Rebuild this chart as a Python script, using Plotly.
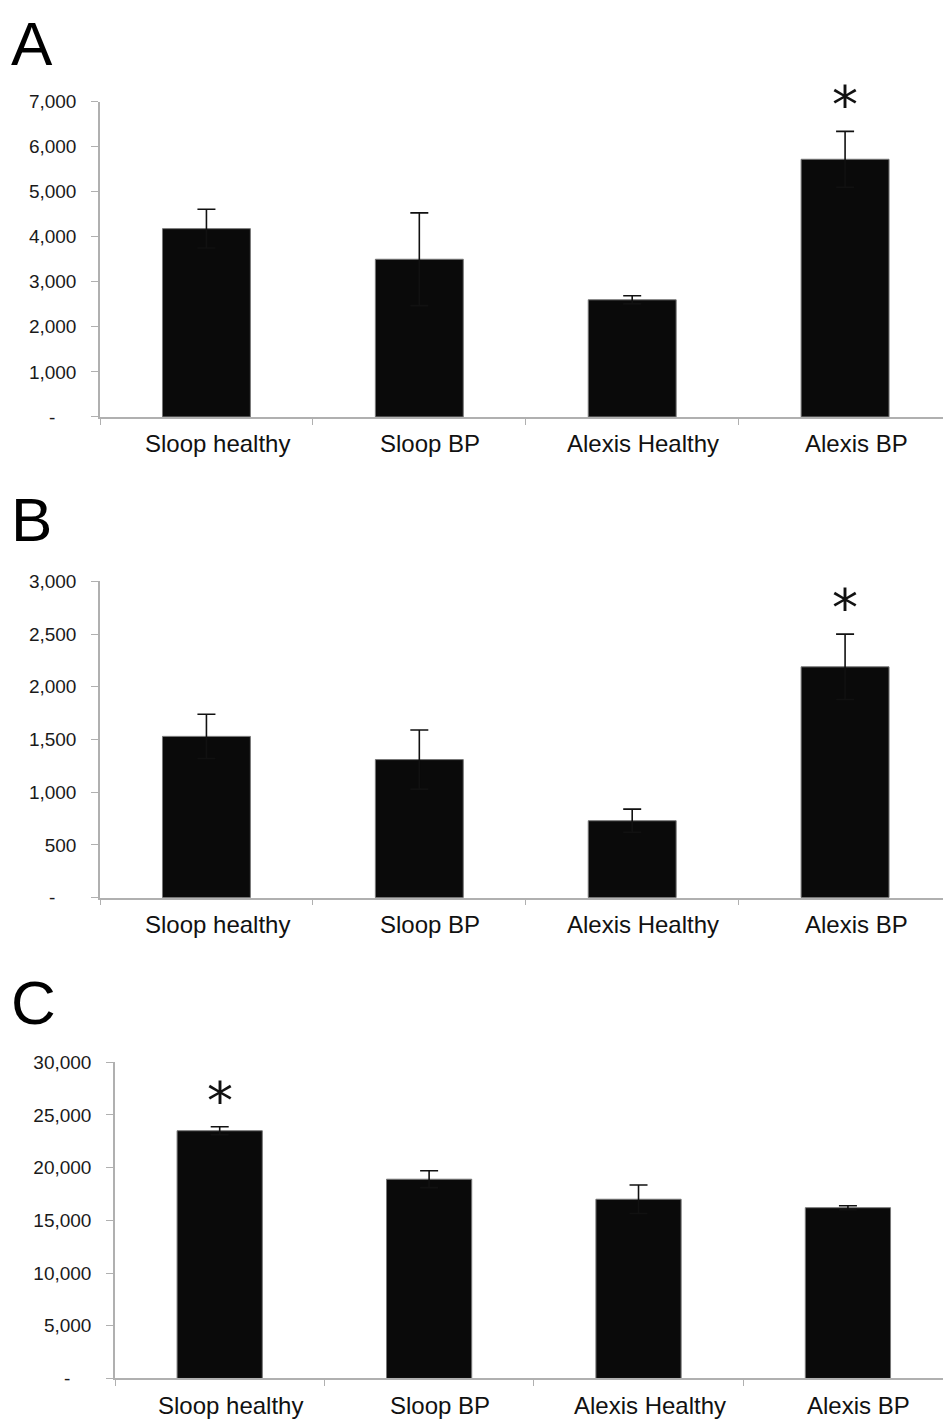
import plotly.graph_objects as go

# Groups shown on every panel
groups = ["Sloop healthy", "Sloop BP", "Alexis Healthy", "Alexis BP"]

# Panel A
a_values = [4180, 3500, 2600, 5720]
a_errors = [430, 1030, 90, 620]
a_ticks = [0, 1000, 2000, 3000, 4000, 5000, 6000, 7000]

# Panel B
b_values = [1530, 1310, 730, 2190]
b_errors = [210, 280, 110, 310]
b_ticks = [0, 500, 1000, 1500, 2000, 2500, 3000]

# Panel C
c_values = [23500, 18900, 17000, 16200]
c_errors = [380, 800, 1350, 180]
c_ticks = [0, 5000, 10000, 15000, 20000, 25000, 30000]

# Groups flagged as significant
a_sig = ["Alexis BP"]
b_sig = ["Alexis BP"]
c_sig = ["Sloop healthy"]

W, H = 944, 1420
NB = "\u00a0"

def fmt(v):
    # accounting-style zero
    return "-" + NB * 4 if v == 0 else f"{v:,}"

panels = [
    # letter, values, errors, ticks, sig, x-left px, y-top px, y-bottom px,
    # letter y px, visible category span, bar width
    ("A", a_values, a_errors, a_ticks, a_sig, 100, 93, 413, None, 3.46, 0.413),
    ("B", b_values, b_errors, b_ticks, b_sig, 100, 580, 901, 517, 3.46, 0.413),
    ("C", c_values, c_errors, c_ticks, c_sig, 115, 1068, 1389, 1007, 3.454, 0.407),
]

fig = go.Figure()
annotations = []
layout = {}

for i, (letter, vals, errs, ticks, sig, xl, yt, yb, ly, xmax, bw) in enumerate(panels):
    n = "" if i == 0 else str(i + 1)
    xa, ya = "x" + n, "y" + n
    fig.add_trace(go.Bar(
        x=groups, y=vals, xaxis=xa, yaxis=ya, width=bw,
        marker=dict(color="#0a0a0a", line=dict(color="#777777", width=1)),
        error_y=dict(type="data", array=errs, visible=True,
                     color="#111111", thickness=1.6, width=9),
        showlegend=False,
    ))
    top = ticks[-1]
    layout["xaxis" + n] = dict(
        domain=[xl / W, 943 / W], anchor=ya, type="category",
        range=[-0.5, xmax],
        showline=True, linecolor="#b0b0b0", linewidth=1.5,
        ticks="outside", tickson="boundaries", ticklen=6, tickcolor="#b0b0b0",
        showticklabels=False, showgrid=False, zeroline=False, fixedrange=True,
    )
    layout["yaxis" + n] = dict(
        domain=[1 - yb / H, 1 - yt / H], anchor=xa, range=[0, top],
        tickvals=ticks, ticktext=[fmt(t) for t in ticks],
        showline=True, linecolor="#b0b0b0", linewidth=1.5,
        ticks="outside", ticklen=7, tickcolor="#b0b0b0",
        ticklabelstandoff=11,
        tickfont=dict(family="Liberation Sans, Arial", size=19, color="#1a1a1a"),
        showgrid=False, zeroline=False, fixedrange=True,
    )
    # category labels under the axis
    for g in groups:
        annotations.append(dict(
            x=g, y=0, xref=xa, yref=ya, text=g, showarrow=False,
            xanchor="center", yanchor="middle", yshift=-27, xshift=11,
            font=dict(family="Liberation Sans, Arial", size=24, color="#111111"),
        ))
    # significance markers above the error bars
    for g in sig:
        k = groups.index(g)
        annotations.append(dict(
            x=g, y=vals[k] + errs[k], xref=xa, yref=ya, text="*",
            showarrow=False, xanchor="center", yanchor="bottom", yshift=-6,
            font=dict(family="DejaVu Sans", size=52, color="#111111"),
        ))
    # panel letter
    if ly is None:
        letter_pos = dict(y=1, yanchor="top", yshift=3)
    else:
        letter_pos = dict(y=1 - ly / H, yanchor="middle")
    annotations.append(dict(
        x=9 / W, xref="paper", yref="paper", text=letter,
        showarrow=False, xanchor="left", **letter_pos,
        font=dict(family="Liberation Sans, Arial", size=62, color="#000000"),
    ))

fig.update_layout(
    width=W, height=H,
    margin=dict(l=0, r=0, t=0, b=0),
    paper_bgcolor="white", plot_bgcolor="white",
    annotations=annotations,
    **layout,
)

fig.write_html("out.html")
